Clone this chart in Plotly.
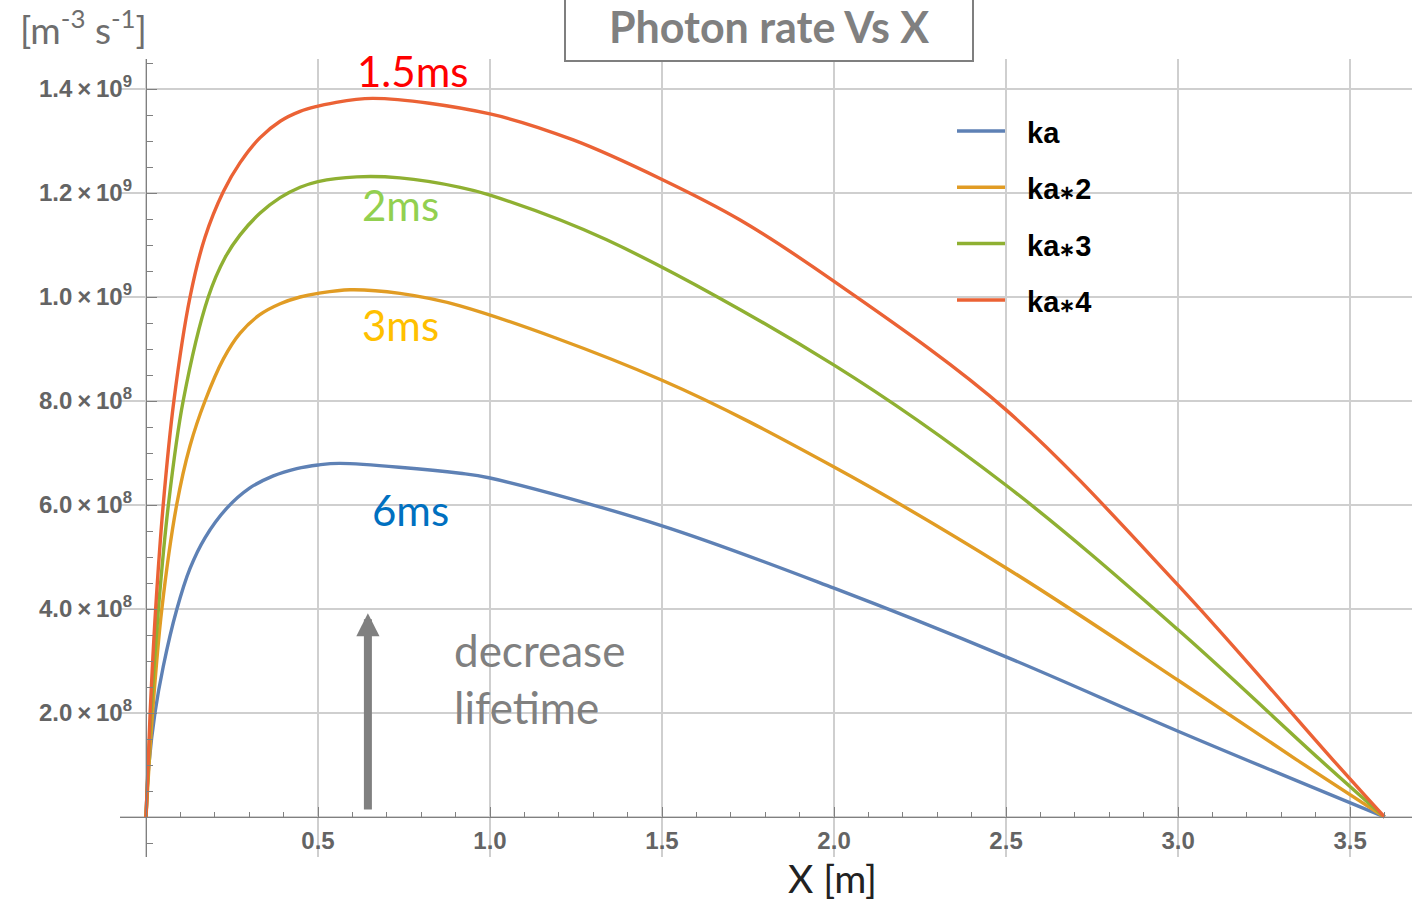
import plotly.graph_objects as go

# ---------------- data (photon rate in units of 1e9 m^-3 s^-1) ----------------
UNIT = 1e9

series_names = ["ka", "ka∗2", "ka∗3", "ka∗4"]
series_colors = ["#5E81B5", "#E19C24", "#8FB032", "#EB6235"]

x_ka = [0, 0.007, 0.026, 0.050, 0.089, 0.128, 0.1715, 0.235, 0.300, 0.370, 0.438,
        0.500, 0.564, 0.913, 1.0, 1.5, 2.0, 2.5, 3.0, 3.6]
rate_ka = [0, 0.09, 0.20, 0.289, 0.398, 0.478, 0.537, 0.594, 0.632, 0.656, 0.670,
           0.677, 0.680, 0.661, 0.652, 0.56, 0.44, 0.308, 0.165, 0]

x_ka2 = [0, 0.019, 0.046, 0.089, 0.128, 0.1715, 0.225, 0.273, 0.331, 0.390, 0.448,
         0.5, 0.593, 0.738, 0.913, 1.5, 2.0, 2.5, 3.0, 3.345, 3.6]
rate_ka2 = [0, 0.2, 0.4, 0.6, 0.714, 0.8, 0.881, 0.930, 0.966, 0.987, 1.000,
            1.007, 1.014, 1.007, 0.983, 0.840, 0.673, 0.479, 0.263, 0.110, 0]

x_ka3 = [0, 0.0145, 0.036, 0.065, 0.108, 0.181, 0.230, 0.273, 0.331, 0.390, 0.448,
         0.5, 0.613, 0.738, 0.913, 1.0, 1.339, 2.0, 2.5, 3.0, 3.413, 3.6]
rate_ka3 = [0, 0.2, 0.4, 0.6, 0.8, 1.0, 1.076, 1.119, 1.161, 1.191, 1.211,
            1.222, 1.231, 1.229, 1.211, 1.196, 1.110, 0.869, 0.638, 0.360, 0.110, 0]

x_ka4 = [0, 0.012, 0.028, 0.050, 0.081, 0.128, 0.1715, 0.225, 0.273, 0.331, 0.390,
         0.448, 0.500, 0.535, 0.660, 1.0, 1.242, 1.5, 1.727, 2.0, 2.5, 3.0, 3.45, 3.6]
rate_ka4 = [0, 0.2, 0.4, 0.6, 0.8, 1.0, 1.115, 1.203, 1.258, 1.306, 1.338,
            1.357, 1.367, 1.372, 1.382, 1.352, 1.302, 1.226, 1.148, 1.03, 0.783,
            0.446, 0.110, 0]

series_x = [x_ka, x_ka2, x_ka3, x_ka4]
series_rate = [rate_ka, rate_ka2, rate_ka3, rate_ka4]

# lifetime labels next to each curve
lifetime_text = ["6ms", "3ms", "2ms", "1.5ms"]
lifetime_color = ["#0070C0", "#FFC000", "#92D050", "#FF0000"]
lifetime_x = [0.770, 0.741, 0.741, 0.776]
lifetime_y = [0.590, 0.946, 1.177, 1.435]

# axis ticks
x_tick_values = [0, 0.5, 1.0, 1.5, 2.0, 2.5, 3.0, 3.5]
x_tick_labels = ["", "0.5", "1.0", "1.5", "2.0", "2.5", "3.0", "3.5"]
y_tick_values = [0, 0.2, 0.4, 0.6, 0.8, 1.0, 1.2, 1.4]
y_tick_mantissa = ["", "2.0", "4.0", "6.0", "8.0", "1.0", "1.2", "1.4"]
y_tick_exponent = ["", "8", "8", "8", "8", "9", "9", "9"]

X_RANGE = [-0.0756, 3.680]
Y_RANGE = [-0.0769, 1.4577]

# ---------------- figure ----------------
W, H = 1422, 902
ML, MR, MT, MB = 120, 10, 59, 45
PW, PH = W - ML - MR, H - MT - MB


def px_to_paper_x(px):
    return (px - ML) / PW


def py_to_paper_y(py):
    return (H - MB - py) / PH


def sci_label(mant, expo):
    if not mant:
        return ""
    return f"{mant}\u2009×\u200910<sup>{expo}</sup>"


fig = go.Figure()
for name, color, xs, ys in zip(series_names, series_colors, series_x, series_rate):
    fig.add_trace(go.Scatter(
        x=xs, y=[v * UNIT for v in ys], mode="lines", name=name,
        line=dict(color=color, width=3.4, shape="spline", smoothing=1.0),
        showlegend=False, hoverinfo="skip",
    ))

axis_gray = "#808080"
tick_font = dict(family="Liberation Sans", size=24, color="#646464", weight="bold")

x_zero_pos = (0 - Y_RANGE[0]) / (Y_RANGE[1] - Y_RANGE[0])
y_zero_pos = (0 - X_RANGE[0]) / (X_RANGE[1] - X_RANGE[0])

fig.update_layout(
    width=W, height=H,
    margin=dict(l=ML, r=MR, t=MT, b=MB, pad=0),
    paper_bgcolor="white", plot_bgcolor="white",
    xaxis=dict(
        range=X_RANGE, anchor="free", position=x_zero_pos,
        showgrid=True, gridcolor="#cfcfcf", gridwidth=1.8,
        tickmode="array", tickvals=x_tick_values, ticktext=x_tick_labels,
        ticks="inside", ticklen=10, tickwidth=1.2, tickcolor=axis_gray,
        showline=True, linecolor=axis_gray, linewidth=1.4, zeroline=False,
        tickfont=tick_font, ticklabelstandoff=2,
        minor=dict(tickmode="linear", tick0=0, dtick=0.1, ticks="inside",
                   ticklen=5, tickwidth=1.0, tickcolor=axis_gray, showgrid=False),
    ),
    yaxis=dict(
        range=[v * UNIT for v in Y_RANGE], anchor="free", position=y_zero_pos,
        showgrid=True, gridcolor="#cfcfcf", gridwidth=1.8,
        tickmode="array", tickvals=[v * UNIT for v in y_tick_values],
        ticktext=[sci_label(m, e) for m, e in zip(y_tick_mantissa, y_tick_exponent)],
        ticks="inside", ticklen=10, tickwidth=1.2, tickcolor=axis_gray,
        showline=True, linecolor=axis_gray, linewidth=1.4, zeroline=False,
        tickfont=tick_font, ticklabelstandoff=9,
        minor=dict(tickmode="linear", tick0=0, dtick=0.05 * UNIT, ticks="inside",
                   ticklen=6, tickwidth=1.0, tickcolor=axis_gray, showgrid=False),
    ),
)

annotations = []
for txt, col, lx, ly in zip(lifetime_text, lifetime_color, lifetime_x, lifetime_y):
    annotations.append(dict(x=lx, y=ly * UNIT, xref="x", yref="y", text=txt,
                            showarrow=False, xanchor="center", yanchor="middle",
                            font=dict(family="Lato", size=42, color=col)))

# upward arrow: decreasing lifetime
annotations.append(dict(x=0.645, y=0.392 * UNIT, ax=0.645, ay=0.0115 * UNIT,
                        xref="x", yref="y", axref="x", ayref="y", text="",
                        showarrow=True, arrowhead=2, arrowwidth=8, arrowsize=0.58,
                        arrowcolor="#808080", standoff=0))
annotations.append(dict(x=0.890, y=0.266 * UNIT, xref="x", yref="y",
                        text="decrease<br>lifetime", showarrow=False,
                        xanchor="left", yanchor="middle", align="left",
                        font=dict(family="Lato", size=44, color="#808080")))

# title inside a framed box
annotations.append(dict(x=px_to_paper_x(769), y=py_to_paper_y(26), xref="paper", yref="paper",
                        text="Photon rate Vs X", showarrow=False,
                        xanchor="center", yanchor="middle",
                        font=dict(family="Lato", size=43, color="#808080", weight="bold")))

# axis labels
annotations.append(dict(x=px_to_paper_x(18), y=py_to_paper_y(27), xref="paper", yref="paper",
                        text="[m<sup>-3</sup> s<sup>-1</sup>]", showarrow=False,
                        xanchor="left", yanchor="middle",
                        font=dict(family="Lato", size=37, color="#6e6e6e")))
annotations.append(dict(x=px_to_paper_x(832), y=py_to_paper_y(878), xref="paper", yref="paper",
                        text="X [m]", showarrow=False, xanchor="center", yanchor="middle",
                        font=dict(family="Lato", size=39, color="#222222")))

shapes = [dict(type="rect", xref="paper", yref="paper",
               x0=px_to_paper_x(565), x1=px_to_paper_x(973),
               y0=py_to_paper_y(61), y1=py_to_paper_y(-3),
               line=dict(color="#7f7f7f", width=2), fillcolor="white", layer="above")]

# legend: line sample + bold label for each series
legend_top_py, legend_step = 131, 56.3
for i, (name, color) in enumerate(zip(series_names, series_colors)):
    row_y = py_to_paper_y(legend_top_py + legend_step * i)
    shapes.append(dict(type="line", xref="paper", yref="paper",
                       x0=px_to_paper_x(957), x1=px_to_paper_x(1005), y0=row_y, y1=row_y,
                       line=dict(color=color, width=3.5), layer="above"))
    label = name.replace("∗", "<span style='font-size:19px'>∗</span>")
    annotations.append(dict(x=px_to_paper_x(1025), y=py_to_paper_y(legend_top_py + 2 + legend_step * i),
                            xref="paper", yref="paper",
                            text=label, showarrow=False, xanchor="left", yanchor="middle",
                            font=dict(family="Liberation Sans", size=29, color="black",
                                      weight="bold")))

fig.update_layout(annotations=annotations, shapes=shapes)

fig.write_html("out.html")
